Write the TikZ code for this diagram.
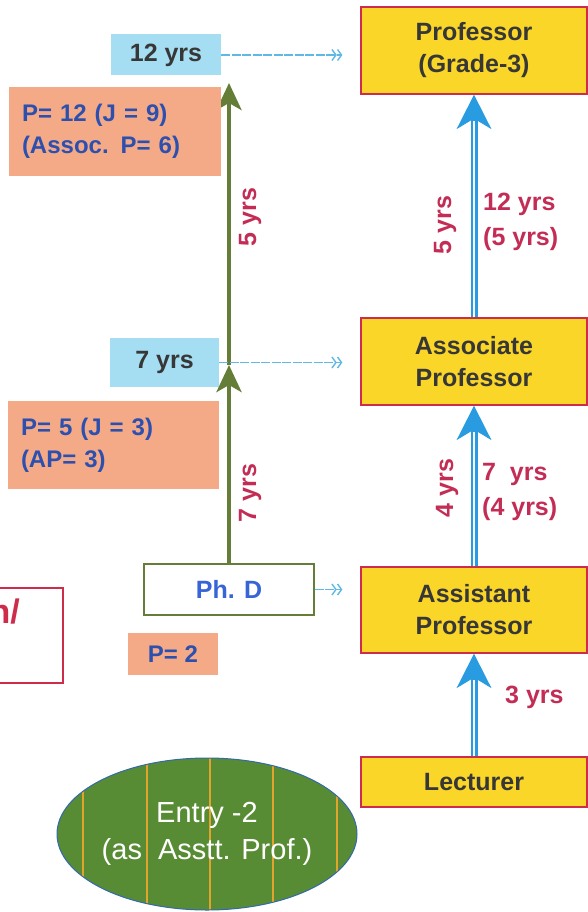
\documentclass[tikz,border=0pt]{standalone}
\usepackage{fontspec}
\setmainfont{Liberation Sans}
\usetikzlibrary{arrows.meta,shapes.geometric}

\definecolor{boxyellow}{RGB}{250,214,40}
\definecolor{boxred}{RGB}{205,45,75}
\definecolor{labelred}{RGB}{195,45,85}
\definecolor{arrowblue}{RGB}{40,155,225}
\definecolor{dashblue}{RGB}{95,185,230}
\definecolor{yrscyan}{RGB}{165,222,242}
\definecolor{pointorange}{RGB}{244,170,135}
\definecolor{pointblue}{RGB}{45,80,175}
\definecolor{phdblue}{RGB}{55,100,215}
\definecolor{arrowgreen}{RGB}{100,125,55}
\definecolor{textgray}{RGB}{55,55,55}
\definecolor{entrygreen}{RGB}{88,140,52}
\definecolor{entryline}{RGB}{50,105,170}
\definecolor{stripe}{RGB}{225,165,45}

\begin{document}
\begin{tikzpicture}[x=1pt,y=-1pt,
  post/.style={draw=boxred, line width=1.2pt, fill=boxyellow, text=textgray,
    minimum width=226pt, align=center, font=\fontsize{25}{32}\selectfont\bfseries},
  yrsbox/.style={fill=yrscyan, text=textgray, font=\fontsize{25}{30}\selectfont\bfseries},
  pointbox/.style={fill=pointorange, text=pointblue, align=left, inner xsep=13pt,
    font=\fontsize{24}{32}\selectfont\bfseries},
  yrslabel/.style={text=labelred, inner sep=0pt, align=left,
    font=\fontsize{25}{35}\selectfont\bfseries},
  uparrow/.style={draw=arrowblue, line width=7pt,
    -{Stealth[length=34pt,width=34pt,inset=10pt]}},
  upgap/.style={draw=white, line width=2pt, shorten >=26pt},
  phdarrow/.style={draw=arrowgreen, line width=4.5pt,
    -{Stealth[length=27pt,width=25pt,inset=7pt]}},
  sidearrow/.style={draw=dashblue, line width=1.4pt, dash pattern=on 9pt off 1.5pt,
    -{Straight Barb[length=4pt,width=11pt] Straight Barb[length=4pt,width=11pt]},
    shorten >=18pt},
  entry/.style={ellipse, draw=entryline, line width=1pt, fill=entrygreen,
    minimum width=300pt, minimum height=152pt, inner sep=0pt, text=white,
    align=center, font=\fontsize{29}{37}\selectfont,
    path picture={\foreach \sx in {-124,-60,3,66,130}
      \draw[stripe, line width=1.6pt]
      ([xshift=\sx pt]path picture bounding box.north) --
      ([xshift=\sx pt]path picture bounding box.south);}}]

  \useasboundingbox (0,0) rectangle (588,912);

  % posts
  \node[post, minimum height=87pt] (prof) at (474,50.5) {Professor\\(Grade-3)};
  \node[post, minimum height=87pt] (assoc) at (474,361.5) {Associate\\Professor};
  \node[post, minimum height=86pt] (asst) at (474,610) {Assistant\\Professor};
  \node[post, minimum height=50pt] (lect) at (474,782) {Lecturer};

  % promotion arrows
  \draw[uparrow] (lect.north) -- (asst.south);
  \draw[upgap] (lect.north) -- (asst.south);
  \draw[uparrow] (asst.north) -- (assoc.south);
  \draw[upgap] (asst.north) -- (assoc.south);
  \draw[uparrow] (assoc.north) -- (prof.south);
  \draw[upgap] (assoc.north) -- (prof.south);

  \node[yrslabel, anchor=west] (l3) at (505,697) {3 yrs};
  \node[yrslabel, anchor=west] (l7) at (482,492) {7~ yrs\\(4 yrs)};
  \node[yrslabel, rotate=90] (l4) at (447,488) {4 yrs};
  \node[yrslabel, anchor=west] (l12) at (483,222) {12 yrs\\(5 yrs)};
  \node[yrslabel, rotate=90] (l5) at (445,225) {5 yrs};

  % ph.d track
  \node[draw=arrowgreen, line width=1.2pt, fill=white, text=phdblue,
    minimum width=170pt, minimum height=51pt,
    font=\fontsize{25}{30}\selectfont\bfseries] (phd) at (229,589.5) {Ph. D};
  \coordinate (g7) at (229,365);
  \coordinate (g12) at (229,83);

  \node[yrsbox, minimum width=110pt, minimum height=41pt] (y12) at (166,55) {12 yrs};
  \node[yrsbox, minimum width=109pt, minimum height=49pt] (y7) at (164.5,362.5) {7 yrs};

  \draw[phdarrow] (g7) -- (g12);
  \draw[phdarrow] (phd.north) -- (g7);

  \draw[sidearrow] (y12.east) -- (y12.east -| prof.west);
  \draw[sidearrow] (y7.east) -- (y7.east -| assoc.west);
  \draw[sidearrow] (phd.east) -- (phd.east -| asst.west);

  \node[yrslabel, rotate=90] (g5) at (250,217) {5 yrs};
  \node[yrslabel, rotate=90] (g7l) at (250,493) {7 yrs};

  % points
  \node[pointbox, text width=186pt, minimum height=89pt] (p12) at (115,131.5)
    {P= 12 (J = 9)\\(Assoc. P= 6)};
  \node[pointbox, text width=185pt, minimum height=88pt] (p5) at (113.5,445)
    {P= 5 (J = 3)\\(AP= 3)};
  \node[pointbox, minimum width=90pt, minimum height=42pt, inner xsep=0pt] (p2)
    at (173,654) {P= 2};

  % cut-off box
  \node[draw=boxred, line width=2.5pt, minimum width=80pt, minimum height=95pt]
    (cut) at (23,635.5) {};
  \node[text=boxred, anchor=east, inner sep=0pt,
    font=\fontsize{34}{40}\selectfont\bfseries] (cuttext) at (20,612) {n/};

  % entry
  \node[entry] (entry) at (207,834) {Entry -2\\(as~ Asstt. Prof.)};

\end{tikzpicture}
\end{document}
